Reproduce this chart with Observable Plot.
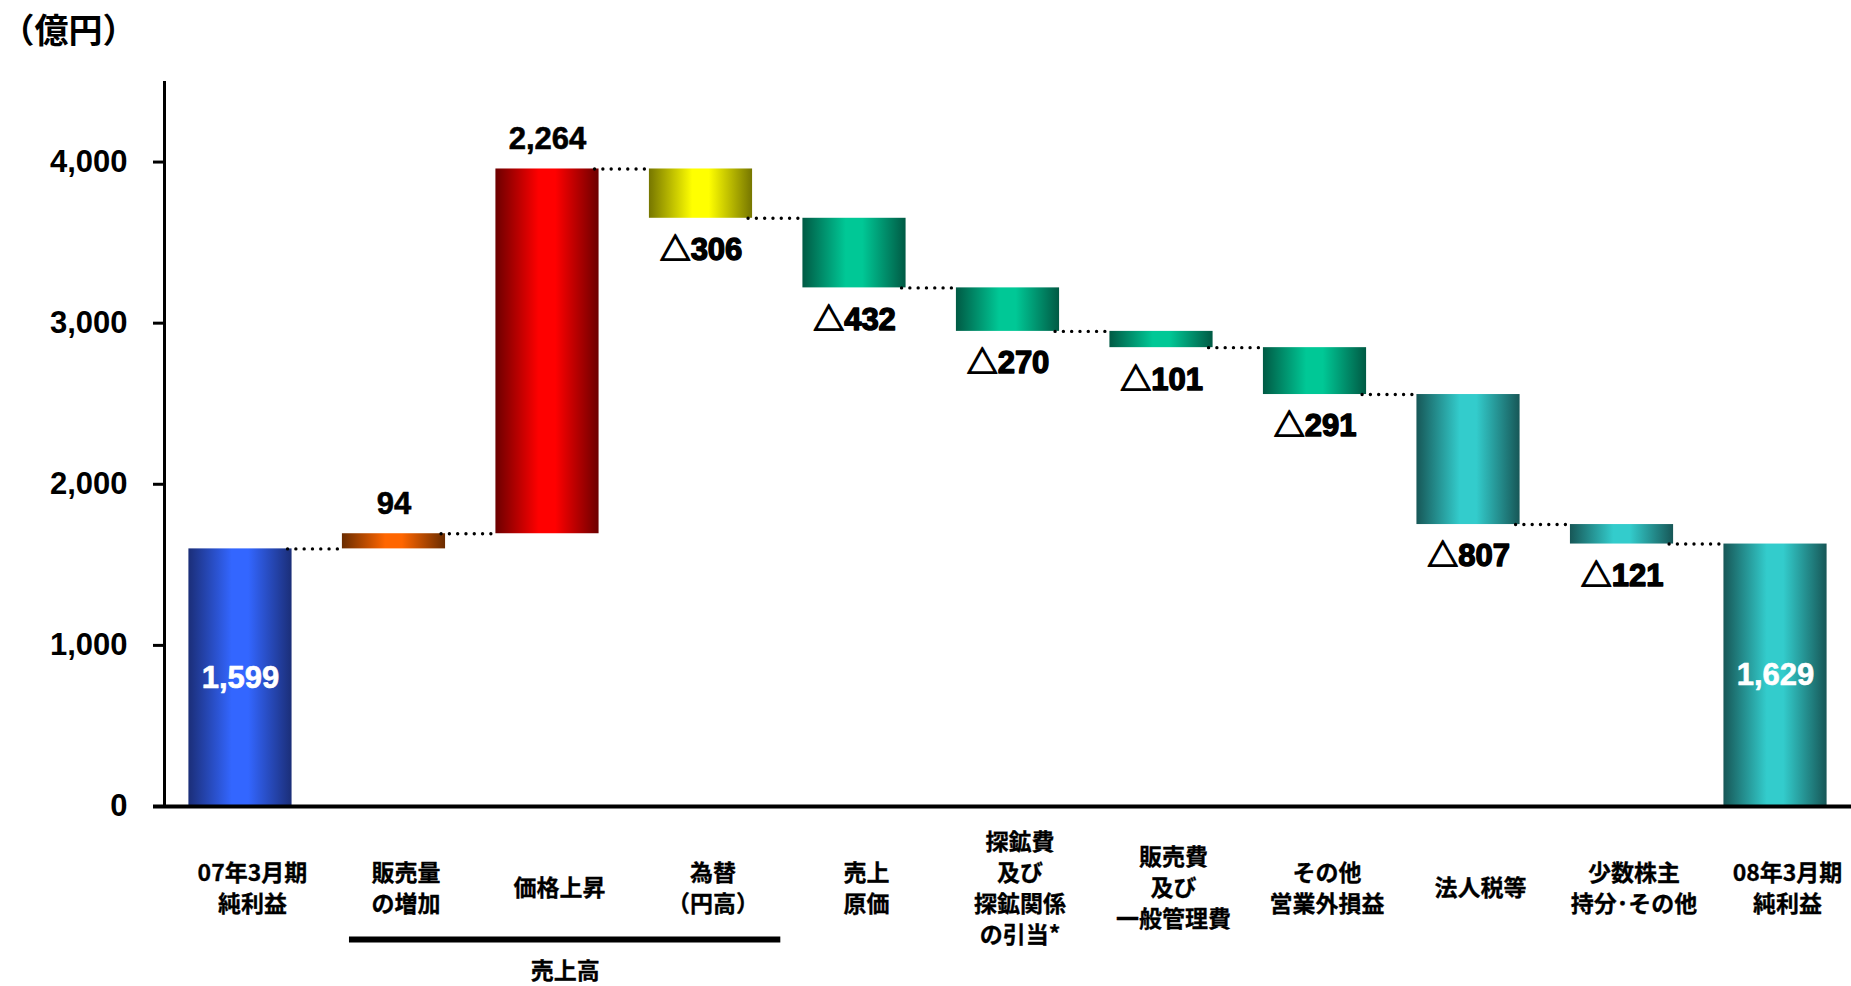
<!DOCTYPE html>
<html>
<head>
<meta charset="utf-8">
<script src="https://cdn.jsdelivr.net/npm/d3@7"></script>
<script src="https://cdn.jsdelivr.net/npm/@observablehq/plot@0.6"></script>
<style>
  html, body { margin: 0; padding: 0; background: #fff; }
  #chart svg { display: block; }
</style>
</head>
<body>
<div id="chart"></div>
<script>
// ---- data ----
const categories = [
  "07年3月期\n純利益",
  "販売量\nの増加",
  "価格上昇",
  "為替\n（円高）",
  "売上\n原価",
  "探鉱費\n及び\n探鉱関係\nの引当*",
  "販売費\n及び\n一般管理費",
  "その他\n営業外損益",
  "法人税等",
  "少数株主\n持分･その他",
  "08年3月期\n純利益"
];
const values = [1599, 94, 2264, -306, -432, -270, -101, -291, -807, -121, 1629];
const barTypes = ["total", "delta", "delta", "delta", "delta", "delta", "delta", "delta", "delta", "delta", "total"];
const yTicks = [0, 1000, 2000, 3000, 4000];
const unitLabel = "（億円）";
const groupLabels = ["売上高"];
const groupFirst = [1];
const groupLast = [3];

// ---- styles ----
const barColor = ["blue", "orange", "red", "yellow", "green", "green", "green", "green", "teal", "teal", "teal"];
const gradients = {
  blue:   ["#1b2e78", "#3366ff"],
  orange: ["#6a2c00", "#ff6600"],
  red:    ["#6c0000", "#ff0000"],
  yellow: ["#767600", "#ffff00"],
  green:  ["#005a44", "#00c896"],
  teal:   ["#175757", "#33cccc"]
};
const numFont = "'Liberation Sans', Arial, 'Noto Sans CJK JP', sans-serif";
const cjkFont = "'Noto Sans CJK JP', 'Liberation Sans', sans-serif";
const halfW = 0.336;
const fmt = d3.format(",");

// ---- derived rows ----
let running = 0;
const rows = categories.map((label, i) => {
  let start, end;
  if (barTypes[i] === "total") { start = 0; end = values[i]; running = values[i]; }
  else { start = running; end = running + values[i]; running = end; }
  const v = values[i];
  const text = v < 0 ? "△" + fmt(-v) : fmt(v);
  return { i, label, start, end, value: v, type: barTypes[i], color: barColor[i], text };
});
const connectors = rows.slice(0, -1).map(r => ({ i: r.i, level: r.end }));
const groups = groupLabels.map((g, k) => ({
  label: g,
  x1: groupFirst[k] - 0.29,
  x2: groupLast[k] + 0.52
}));

const xDomain = [-0.495, categories.length - 1 + 0.495];

const barMarks = Object.keys(gradients).map(key =>
  Plot.rect(rows.filter(r => r.color === key), {
    x1: r => r.i - halfW,
    x2: r => r.i + halfW,
    y1: "start",
    y2: "end",
    fill: `url(#grad-${key})`
  })
);

const svg = Plot.plot({
  width: 1851,
  height: 986,
  marginLeft: 164,
  marginRight: 0,
  marginTop: 81,
  marginBottom: 180,
  style: { fontFamily: numFont, fontWeight: "bold", color: "black", background: "white" },
  x: { domain: xDomain, axis: null },
  y: { domain: [0, 4500] },
  marks: [
    ...barMarks,
    // connectors
    Plot.ruleY(connectors, {
      y: "level",
      x1: d => d.i + halfW,
      x2: d => d.i + 1 - halfW,
      dx: -4,
      stroke: "black",
      strokeWidth: 3.4,
      strokeDasharray: "0,8.3",
      strokeLinecap: "round"
    }),
    // y axis line
    Plot.ruleX([xDomain[0]], { y1: 0, y2: 4500, stroke: "black", strokeWidth: 3 }),
    Plot.axisY({
      ticks: yTicks,
      tickFormat: d => fmt(d),
      tickSize: 11,
      tickPadding: 26,
      strokeWidth: 3,
      fontSize: 31,
      fontWeight: "bold",
      fill: "black",
      label: null
    }),
    // baseline
    Plot.ruleY([0], { stroke: "black", strokeWidth: 4, insetLeft: -11 }),
    // totals (white labels inside bars)
    Plot.text(rows.filter(r => r.type === "total"), {
      x: "i", y: r => r.end / 2, text: "text",
      fill: "white", stroke: "white", strokeWidth: 0.6,
      fontSize: 31, fontWeight: "bold", fontFamily: numFont
    }),
    // increases (above)
    Plot.text(rows.filter(r => r.type === "delta" && r.value > 0), {
      x: "i", y: "end", dy: -30, text: "text",
      fill: "black", stroke: "black", strokeWidth: 0.6,
      fontSize: 31, fontWeight: "bold", fontFamily: numFont
    }),
    // decreases (below)
    Plot.text(rows.filter(r => r.type === "delta" && r.value < 0), {
      x: "i", y: "end", dy: 32, text: "text",
      fill: "black", stroke: "black", strokeWidth: 1.4,
      fontSize: 31, fontWeight: "bold", fontFamily: numFont
    }),
    // category labels
    Plot.text(rows, {
      x: "i", text: "label", frameAnchor: "bottom", dy: 80, dx: 12,
      lineAnchor: "middle", textAnchor: "middle", lineHeight: 1.35,
      fontSize: 23, fontWeight: "bold", fontFamily: cjkFont, fill: "black",
      stroke: "black", strokeWidth: 0.3
    }),
    // group bracket
    Plot.ruleY(groups, { y: () => 0, x1: "x1", x2: "x2", dy: 133, stroke: "black", strokeWidth: 6 }),
    Plot.text(groups, {
      x: d => (d.x1 + d.x2) / 2, text: "label", frameAnchor: "bottom", dy: 172,
      fontSize: 23, fontWeight: "bold", fontFamily: cjkFont, fill: "black",
      stroke: "black", strokeWidth: 0.3
    }),
    // unit label
    Plot.text([unitLabel], {
      frameAnchor: "top-left", dx: -96, dy: -49, textAnchor: "middle", lineAnchor: "middle",
      fontSize: 34, fontWeight: "bold", fontFamily: cjkFont, fill: "black"
    })
  ]
});

// gradient definitions
const ns = "http://www.w3.org/2000/svg";
const defs = document.createElementNS(ns, "defs");
for (const [key, [dark, bright]] of Object.entries(gradients)) {
  const g = document.createElementNS(ns, "linearGradient");
  g.setAttribute("id", `grad-${key}`);
  g.setAttribute("x1", "0"); g.setAttribute("y1", "0");
  g.setAttribute("x2", "1"); g.setAttribute("y2", "0");
  [[0, dark], [0.42, bright], [0.58, bright], [1, dark]].forEach(([o, c]) => {
    const s = document.createElementNS(ns, "stop");
    s.setAttribute("offset", o);
    s.setAttribute("stop-color", c);
    g.appendChild(s);
  });
  defs.appendChild(g);
}
svg.insertBefore(defs, svg.firstChild);
document.getElementById("chart").appendChild(svg);
</script>
</body>
</html>
